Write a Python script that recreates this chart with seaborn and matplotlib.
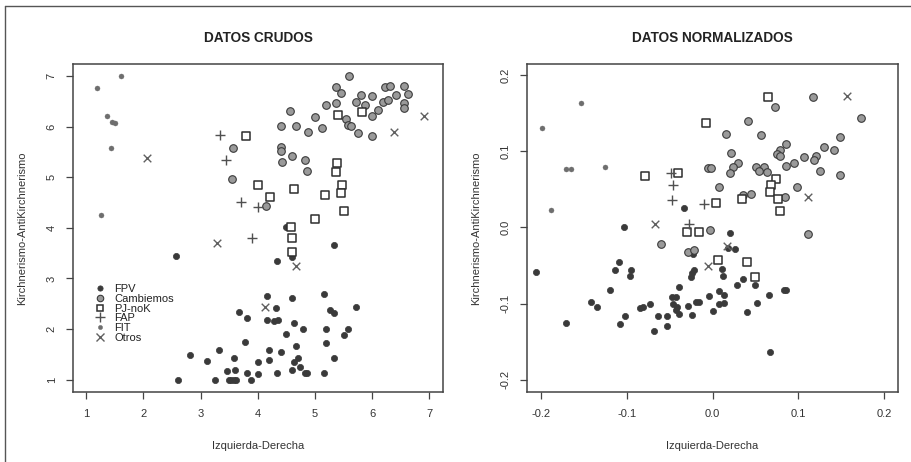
import numpy as np
import pandas as pd
import seaborn as sns
import matplotlib
matplotlib.use("Agg")
import matplotlib.pyplot as plt
from matplotlib.lines import Line2D

# ---------------- DATA ----------------
groups = ["FPV", "Cambiemos", "PJ-noK", "FAP", "FIT", "Otros"]

# DATOS CRUDOS
raw_fpv_x = [2.57,5.33,4.34,4.60,4.50,4.16,4.60,5.15,4.31,5.26,5.33,5.71,3.67,3.81,4.16,4.29,4.35,4.64,4.79,5.20,
             5.58,5.51,4.50,3.78,4.67,5.20,3.33,4.20,4.41,2.81,3.12,3.58,4.00,4.20,4.71,4.64,4.73,5.33,3.46,3.60,
             3.81,4.00,4.33,4.60,4.83,4.86,5.15,2.61,3.26,3.49,3.54,3.58,3.62,3.88]
raw_fpv_y = [3.44,3.66,3.35,3.42,4.01,2.66,2.61,2.69,2.41,2.38,2.32,2.43,2.33,2.21,2.17,2.16,2.17,2.12,2.00,2.00,
             2.00,1.88,1.90,1.75,1.67,1.73,1.59,1.59,1.55,1.49,1.36,1.43,1.34,1.38,1.43,1.34,1.26,1.43,1.17,1.19,
             1.13,1.11,1.14,1.19,1.14,1.14,1.14,1.00,1.00,1.00,1.00,1.00,1.00,1.00]
raw_cam_x = [5.59,5.36,5.45,6.23,6.32,6.56,6.62,6.41,5.81,5.99,5.37,5.72,5.88,6.19,6.28,6.56,6.56,5.19,6.11,5.99,
             5.55,5.57,5.63,5.75,5.99,4.56,5.00,4.41,4.66,4.88,5.12,3.57,4.41,4.41,4.42,4.59,4.83,4.86,3.55,4.14]
raw_cam_y = [7.00,6.78,6.66,6.78,6.80,6.80,6.64,6.63,6.63,6.60,6.47,6.48,6.43,6.48,6.52,6.46,6.37,6.43,6.33,6.22,
             6.15,6.03,6.01,5.88,5.81,6.31,6.19,6.01,6.01,5.90,5.97,5.57,5.60,5.51,5.30,5.43,5.34,5.13,4.96,4.44]
raw_pj_x = [3.80,5.41,5.82,5.39,5.36,5.48,4.00,4.63,4.21,5.18,5.45,5.50,5.00,4.58,4.60,4.60]
raw_pj_y = [5.81,6.23,6.30,5.29,5.10,4.85,4.84,4.77,4.61,4.66,4.68,4.33,4.18,4.01,3.81,3.53]
raw_fap_x = [3.34,3.45,3.71,4.00,3.90]
raw_fap_y = [5.84,5.34,4.51,4.41,3.81]
raw_fit_x = [1.18,1.60,1.37,1.45,1.50,1.43,1.25]
raw_fit_y = [6.76,7.00,6.21,6.10,6.08,5.57,4.26]
raw_otr_x = [2.07,6.91,6.38,3.29,4.67,4.12]
raw_otr_y = [5.39,6.22,5.89,3.71,3.24,2.44]

# DATOS NORMALIZADOS
nor_fpv_x = [-0.033,-0.103,0.020,-0.023,0.018,0.026,-0.205,-0.109,-0.114,-0.095,-0.096,-0.022,-0.024,-0.025,0.011,
             0.012,0.036,0.049,0.029,-0.039,-0.119,0.008,0.013,-0.004,0.066,0.083,0.085,-0.047,-0.043,-0.142,
             -0.135,-0.073,-0.084,-0.081,-0.046,-0.041,-0.043,-0.039,-0.028,-0.019,-0.016,0.007,0.013,0.001,-0.024,
             0.040,0.052,-0.102,-0.063,-0.053,-0.171,-0.108,-0.053,-0.068,0.067]
nor_fpv_y = [0.026,0.000,-0.008,-0.035,-0.027,-0.029,-0.058,-0.046,-0.056,-0.056,-0.064,-0.056,-0.060,-0.065,-0.055,
             -0.064,-0.068,-0.075,-0.076,-0.078,-0.082,-0.083,-0.089,-0.090,-0.089,-0.082,-0.082,-0.092,-0.092,-0.098,
             -0.104,-0.101,-0.106,-0.104,-0.101,-0.104,-0.108,-0.113,-0.103,-0.098,-0.098,-0.100,-0.099,-0.110,-0.115,
             -0.111,-0.099,-0.116,-0.116,-0.116,-0.125,-0.127,-0.129,-0.136,-0.163]
nor_cam_x = [0.117,0.073,0.173,0.041,0.016,0.057,0.148,0.085,0.130,0.142,0.078,0.075,0.079,0.021,0.106,0.121,0.118,
             0.095,0.086,0.030,0.024,-0.005,-0.002,0.051,0.060,0.054,0.064,0.020,0.125,0.148,0.008,0.098,0.035,
             0.045,0.084,-0.003,0.111,-0.060,-0.028,-0.022]
nor_cam_y = [0.171,0.158,0.144,0.140,0.123,0.121,0.119,0.110,0.105,0.101,0.102,0.096,0.094,0.097,0.092,0.094,0.089,
             0.084,0.081,0.084,0.079,0.078,0.078,0.079,0.079,0.074,0.073,0.072,0.074,0.069,0.053,0.053,0.043,
             0.044,0.040,-0.004,-0.009,-0.022,-0.032,-0.030]
nor_pj_x = [0.065,-0.008,-0.078,-0.040,0.004,0.034,0.074,0.068,0.067,0.076,0.079,-0.030,-0.016,0.006,0.040,0.049]
nor_pj_y = [0.171,0.137,0.068,0.071,0.032,0.037,0.063,0.055,0.047,0.037,0.022,-0.006,-0.006,-0.043,-0.045,-0.065]
nor_fap_x = [-0.048,-0.046,-0.047,-0.010,-0.027]
nor_fap_y = [0.071,0.056,0.036,0.031,0.004]
nor_fit_x = [-0.153,-0.198,-0.170,-0.165,-0.125,-0.188]
nor_fit_y = [0.163,0.130,0.077,0.077,0.079,0.023]
nor_otr_x = [0.156,0.111,-0.067,0.017,-0.005]
nor_otr_y = [0.172,0.040,0.005,-0.024,-0.051]

titles = ["DATOS CRUDOS", "DATOS NORMALIZADOS"]
xlabel = "Izquierda-Derecha"
ylabel = "Kirchnerismo-AntiKirchnerismo"
raw_ticks = [1, 2, 3, 4, 5, 6, 7]
nor_ticks = [-0.2, -0.1, 0.0, 0.1, 0.2]
nor_ticklabels = ["-0.2", "-0.1", "0.0", "0.1", "0.2"]

# ---------------- STYLE ----------------
sns.set_theme(style="white")
plt.rcParams["font.family"] = ["Liberation Sans", "DejaVu Sans"]

styles = {
    "FPV":       dict(marker="o", s=20, color="#3a3a3a", edgecolor="#3a3a3a", linewidth=0.5),
    "Cambiemos": dict(marker="o", s=30, color="#9a9a9a", edgecolor="#3a3a3a", linewidth=0.8),
    "PJ-noK":    dict(marker="s", s=26, color="white", edgecolor="#2e2e2e", linewidth=1.1),
    "FAP":       dict(marker="+", s=55, color="#505050", linewidth=1.0),
    "FIT":       dict(marker="o", s=13, color="#6e6e6e", edgecolor="#6e6e6e", linewidth=0.3),
    "Otros":     dict(marker="x", s=30, color="#606060", linewidth=1.0),
}

def make_df(fpvx, fpvy, camx, camy, pjx, pjy, fapx, fapy, fitx, fity, otrx, otry):
    parts = []
    for g, xs, ys in [("FPV", fpvx, fpvy), ("Cambiemos", camx, camy), ("PJ-noK", pjx, pjy),
                      ("FAP", fapx, fapy), ("FIT", fitx, fity), ("Otros", otrx, otry)]:
        parts.append(pd.DataFrame({"x": xs, "y": ys, "grupo": g}))
    return pd.concat(parts, ignore_index=True)

df_raw = make_df(raw_fpv_x, raw_fpv_y, raw_cam_x, raw_cam_y, raw_pj_x, raw_pj_y,
                 raw_fap_x, raw_fap_y, raw_fit_x, raw_fit_y, raw_otr_x, raw_otr_y)
df_nor = make_df(nor_fpv_x, nor_fpv_y, nor_cam_x, nor_cam_y, nor_pj_x, nor_pj_y,
                 nor_fap_x, nor_fap_y, nor_fit_x, nor_fit_y, nor_otr_x, nor_otr_y)

W, H = 911, 462
fig = plt.figure(figsize=(W / 100, H / 100), dpi=100)
fig.patch.set_facecolor("white")

ax1 = fig.add_axes([73.3 / W, 1 - 392.3 / H, 369.4 / W, 328.3 / H])
ax2 = fig.add_axes([527.3 / W, 1 - 392.3 / H, 370.4 / W, 328.3 / H])

def draw(ax, df):
    for g in groups:
        sub = df[df["grupo"] == g]
        sns.scatterplot(data=sub, x="x", y="y", ax=ax, legend=False, zorder=3, **styles[g])

draw(ax1, df_raw)
draw(ax2, df_nor)

ax1.set_xlim(0.773, 7.234)
ax1.set_ylim(0.751, 7.239)
ax1.set_xticks(raw_ticks)
ax1.set_yticks(raw_ticks)
ax1.set_xticklabels([str(t) for t in raw_ticks])
ax1.set_yticklabels([str(t) for t in raw_ticks], rotation=90, va="center")

ax2.set_xlim(-0.2156, 0.2156)
ax2.set_ylim(-0.2164, 0.2144)
ax2.set_xticks(nor_ticks)
ax2.set_yticks(nor_ticks)
ax2.set_xticklabels(nor_ticklabels)
ax2.set_yticklabels(nor_ticklabels, rotation=90, va="center")

for ax, t in zip([ax1, ax2], titles):
    ax.set_xlabel(xlabel, fontsize=8, color="#333333", labelpad=16)
    ax.set_ylabel(ylabel, fontsize=8, color="#333333", labelpad=14)
    ax.set_title(t, fontsize=9.8, fontweight="bold", color="#222222", pad=16)
    ax.tick_params(axis="both", which="major", direction="out", length=5, width=0.9,
                   color="#444444", labelsize=8, labelcolor="#333333", pad=7,
                   bottom=True, left=True)
    for sp in ax.spines.values():
        sp.set_color("#444444")
        sp.set_linewidth(1.1)
    ax.set_facecolor("white")

# Legend on left panel
handles = []
for g in groups:
    st = styles[g]
    if st["marker"] in ("+", "x"):
        h = Line2D([], [], linestyle="none", marker=st["marker"], color=st["color"],
                   markersize=np.sqrt(st["s"]) * 1.0, markeredgewidth=1.0)
    else:
        h = Line2D([], [], linestyle="none", marker=st["marker"],
                   markerfacecolor=st["color"], markeredgecolor=st.get("edgecolor", st["color"]),
                   markersize=np.sqrt(st["s"]) * 0.85, markeredgewidth=st.get("linewidth", 0.8))
    handles.append(h)
leg = ax1.legend(handles, groups, loc="upper left", bbox_to_anchor=(0.058, 0.33),
                 frameon=False, fontsize=8, labelspacing=-0.02, handlelength=1.0,
                 handletextpad=0.75, borderaxespad=0.0, borderpad=0.0)
for txt in leg.get_texts():
    txt.set_color("#222222")

# Outer frame (left and top lines)
fig.add_artist(Line2D([5 / W, 5 / W], [0, 1 - 6 / H], transform=fig.transFigure,
                      color="#555555", linewidth=1.0))
fig.add_artist(Line2D([5 / W, 1], [1 - 6 / H, 1 - 6 / H], transform=fig.transFigure,
                      color="#555555", linewidth=1.0))

fig.savefig("out.png", dpi=100, facecolor="white")
